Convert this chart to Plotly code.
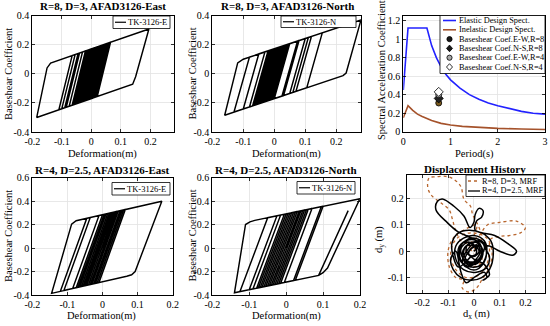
import plotly.graph_objects as go

W, H = 550, 326
F = "Liberation Serif"

# ---------------- data ----------------
# Hysteresis R=8 East (deformation m, base shear coef)
tl_x = [0.000, 0.023, 0.030, -0.015, -0.040, 0.005, 0.045, 0.000, -0.055, -0.010,
        0.010, -0.035, -0.065, -0.020, 0.055, 0.010, -0.030, 0.015, 0.040, -0.005,
        -0.075, -0.030, 0.020, -0.025, -0.045, 0.000, 0.060, 0.015, -0.020, 0.025,
        0.195, 0.150, 0.140, -0.185, -0.150, -0.138, 0.065, 0.020, -0.110, -0.065,
        0.000, -0.045, -0.100, -0.055, -0.020, -0.065, -0.090, -0.045, 0.035, -0.010,
        -0.085, -0.040, 0.050, 0.005, -0.050, -0.005, 0.025, -0.020, -0.060, -0.015,
        0.015, -0.030, -0.035, 0.010, 0.045, 0.000, -0.025, 0.020, 0.052, 0.007,
        -0.042, 0.003, 0.028, -0.017, -0.058, -0.013, 0.012, -0.033, -0.048, -0.030]
tl_y = [0.000, 0.186, 0.191, -0.181, -0.198, 0.174, 0.202, -0.170, -0.209, 0.163,
        0.177, -0.195, -0.216, 0.156, 0.209, -0.163, -0.191, 0.181, 0.198, -0.174,
        -0.223, 0.149, 0.184, -0.188, -0.202, 0.170, 0.212, -0.160, -0.184, 0.188,
        0.307, -0.020, -0.072, -0.300, 0.040, 0.073, 0.216, -0.156, -0.247, 0.125,
        0.170, -0.202, -0.240, 0.132, 0.156, -0.216, -0.233, 0.139, 0.195, -0.177,
        -0.230, 0.142, 0.205, -0.167, -0.205, 0.167, 0.188, -0.184, -0.212, 0.160,
        0.181, -0.191, -0.195, 0.177, 0.202, -0.170, -0.188, 0.184, 0.206, -0.165,
        -0.199, 0.172, 0.190, -0.182, -0.211, 0.161, 0.178, -0.193, -0.204, -0.080]

# Hysteresis R=8 North
tm_x = [0.000, 0.025, 0.035, -0.015, -0.045, 0.005, 0.040, -0.010, -0.060, -0.010,
        0.020, -0.030, -0.050, 0.000, 0.045, -0.005, -0.070, -0.020, 0.030, -0.020,
        -0.040, 0.010, 0.155, 0.105, -0.130, -0.080, 0.080, 0.030, -0.065, -0.015,
        0.010, -0.040, -0.055, -0.005, 0.280, 0.232, 0.222, -0.160, -0.118, -0.100,
        0.120, 0.070, -0.100, -0.050, 0.110, 0.060, -0.080, -0.030, 0.100, 0.050,
        -0.060, -0.010, 0.075, 0.025, -0.050, 0.000, 0.050, 0.000, -0.035, 0.015,
        0.040, -0.010, -0.045, 0.005, 0.025, -0.025, -0.030, -0.015]
tm_y = [0.000, 0.189, 0.196, -0.182, -0.203, 0.175, 0.199, -0.178, -0.214, 0.164,
        0.185, -0.192, -0.207, 0.171, 0.203, -0.175, -0.221, 0.157, 0.192, -0.185,
        -0.199, 0.178, 0.281, -0.096, -0.263, 0.114, 0.228, -0.150, -0.217, 0.160,
        0.178, -0.199, -0.210, 0.167, 0.370, 0.005, -0.013, -0.285, 0.075, 0.100,
        0.256, -0.121, -0.242, 0.136, 0.249, -0.128, -0.228, 0.150, 0.242, -0.136,
        -0.214, 0.164, 0.224, -0.153, -0.207, 0.171, 0.207, -0.171, -0.196, 0.182,
        0.199, -0.178, -0.203, 0.175, 0.189, -0.189, -0.192, -0.070]

# Hysteresis R=4 East
bl_x = [0.000, 0.039, 0.045, -0.030, -0.050, 0.025, 0.055, -0.020, -0.065, 0.010,
        0.030, -0.045, -0.060, 0.015, 0.050, -0.025, -0.040, 0.035, 0.169, 0.093,
        0.083, 0.069, -0.145, -0.088, -0.075, -0.055, 0.065, -0.010, -0.120, -0.045,
        0.020, -0.055, -0.110, -0.035, 0.000, -0.075, -0.085, -0.010, 0.060, -0.015,
        -0.070, 0.005, 0.040, -0.035, -0.055, 0.020, 0.045, -0.030, -0.045, 0.030,
        0.035, -0.040, -0.075, 0.000, 0.025, -0.050, -0.060, 0.015, 0.055, -0.020,
        -0.035, 0.040, 0.052, -0.023, -0.052, 0.023, 0.042, -0.033, -0.068, 0.007,
        0.028, -0.047, -0.030]
bl_y = [0.000, 0.310, 0.314, -0.307, -0.321, 0.300, 0.320, -0.301, -0.331, 0.290,
        0.303, -0.318, -0.328, 0.293, 0.317, -0.304, -0.314, 0.307, 0.398, -0.200,
        -0.228, -0.240, -0.386, 0.203, 0.232, 0.246, 0.327, -0.294, -0.369, 0.252,
        0.297, -0.324, -0.362, 0.259, 0.283, -0.338, -0.345, 0.276, 0.324, -0.297,
        -0.335, 0.286, 0.310, -0.311, -0.324, 0.297, 0.314, -0.307, -0.318, 0.303,
        0.307, -0.314, -0.338, 0.283, 0.300, -0.321, -0.328, 0.293, 0.320, -0.301,
        -0.311, 0.310, 0.318, -0.303, -0.322, 0.299, 0.312, -0.309, -0.333, 0.288,
        0.302, -0.319, -0.150]

# Hysteresis R=4 North
bm_x = [0.000, 0.037, 0.045, -0.030, -0.055, 0.020, 0.050, -0.025, -0.060, 0.015,
        0.030, -0.045, -0.070, 0.005, 0.200, 0.112, 0.100, 0.088, 0.168, 0.088,
        -0.140, -0.110, -0.098, -0.085, 0.100, 0.025, -0.125, -0.050, 0.095, 0.020,
        -0.100, -0.025, 0.070, -0.005, -0.090, -0.015, 0.060, -0.015, -0.080, -0.005,
        0.040, -0.035, -0.065, 0.010, 0.055, -0.020, -0.050, 0.025, 0.035, -0.040,
        -0.075, 0.000, 0.020, -0.055, -0.060, 0.015, 0.045, -0.030, -0.040, -0.020]
bm_y = [0.000, 0.314, 0.319, -0.310, -0.326, 0.303, 0.323, -0.306, -0.329, 0.300,
        0.310, -0.319, -0.336, 0.293, 0.420, -0.170, -0.210, -0.233, 0.318, -0.233,
        -0.381, 0.200, 0.222, 0.235, 0.355, -0.274, -0.371, 0.258, 0.352, -0.277,
        -0.355, 0.274, 0.336, -0.293, -0.349, 0.280, 0.329, -0.300, -0.342, 0.287,
        0.316, -0.313, -0.332, 0.297, 0.326, -0.303, -0.323, 0.306, 0.313, -0.316,
        -0.339, 0.290, 0.303, -0.326, -0.329, 0.300, 0.319, -0.310, -0.316, -0.150]

# Design spectra
period_el = [0.0, 0.1, 0.5, 0.55, 0.6, 0.7, 0.8, 0.9, 1.0, 1.2, 1.4, 1.6, 1.8, 2.0, 2.25, 2.5, 2.75, 3.0]
sa_el = [0.45, 1.12, 1.12, 1.02, 0.93, 0.80, 0.70, 0.62, 0.56, 0.47, 0.40, 0.35, 0.31, 0.28, 0.25, 0.22, 0.20, 0.19]
period_inel = [0.0, 0.1, 0.2, 0.3, 0.4, 0.5, 0.6, 0.8, 1.0, 1.25, 1.5, 2.0, 2.5, 3.0]
sa_inel = [0.15, 0.28, 0.23, 0.19, 0.165, 0.145, 0.12, 0.09, 0.072, 0.058, 0.048, 0.036, 0.029, 0.024]
coef_names = ["Baseshear Coef.E-W,R=8", "Baseshear Coef.N-S,R=8",
              "Baseshear Coef.E-W,R=4", "Baseshear Coef.N-S,R=4"]
coef_period = [0.75, 0.75, 0.75, 0.75]
coef_value = [0.31, 0.36, 0.40, 0.43]

# Displacement history
d8_x = [0.000, 0.030, 0.020, -0.005, -0.013, -0.038, -0.051, -0.080, -0.110, -0.145,
        -0.173, -0.179, -0.167, -0.128, -0.096, -0.083, -0.070, -0.050, -0.020, 0.020,
        0.052, 0.100, 0.167, 0.199, 0.180, 0.140, 0.103, 0.064, 0.060, 0.050,
        0.020, -0.030, -0.070, -0.090, -0.080, -0.050, 0.000, 0.050, 0.070, 0.060,
        0.030, 0.010, -0.020, -0.045, -0.040, -0.070, -0.095, -0.100, -0.080, -0.040,
        0.010, 0.000, -0.030, 0.020, 0.030, -0.010, -0.040, -0.020, 0.000]
d8_y = [0.000, 0.050, 0.090, 0.140, 0.171, 0.197, 0.247, 0.275, 0.285, 0.283,
        0.279, 0.247, 0.216, 0.184, 0.158, 0.121, 0.076, 0.040, 0.030, 0.060,
        0.100, 0.110, 0.114, 0.089, 0.070, 0.060, 0.057, 0.045, 0.000, -0.050,
        -0.090, -0.100, -0.070, -0.020, 0.030, 0.060, 0.070, 0.050, 0.000, -0.060,
        -0.110, -0.140, -0.155, -0.140, -0.110, -0.100, -0.060, 0.000, 0.050, 0.080,
        0.100, 0.060, 0.030, 0.000, -0.040, -0.060, -0.030, 0.010, -0.010]
d4_x = [0.000, 0.020, -0.010, -0.064, -0.102, -0.147, -0.141, -0.122, -0.077, -0.038,
        -0.015, 0.000, 0.005, 0.020, 0.035, 0.030, 0.010, 0.005, 0.030, 0.080,
        0.130, 0.165, 0.150, 0.100, 0.060, 0.040, 0.060, 0.050, 0.010, -0.040,
        -0.070, -0.070, -0.040, 0.000, 0.040, 0.050, 0.030, -0.010, -0.050, -0.060,
        -0.030, 0.010, 0.030, 0.020, -0.020, -0.040, -0.030, 0.000, 0.010, -0.010,
        -0.060, -0.080, -0.085, -0.060, -0.020, 0.030, 0.065, 0.075, 0.060, 0.030,
        -0.010, -0.050, -0.080, -0.090, -0.070, -0.050, -0.030, 0.000, 0.040, 0.050,
        0.035, 0.060, 0.040, 0.000, -0.030, -0.020, 0.020, 0.030, 0.000, -0.040,
        -0.050, -0.010, 0.040, 0.045, 0.010, -0.030, -0.055, -0.045, -0.010, 0.020,
        0.000, -0.020, -0.010, 0.025, 0.035, 0.015, -0.025, -0.045, -0.035, 0.005,
        0.030, 0.020, -0.015, -0.035, -0.020, 0.010, 0.025, 0.000, -0.030, -0.045,
        -0.025, 0.015, 0.040, 0.030, -0.005, -0.040, -0.050, -0.020, 0.010, 0.005]
d4_y = [0.000, 0.030, 0.050, 0.076, 0.108, 0.158, 0.190, 0.199, 0.171, 0.133,
        0.090, 0.110, 0.140, 0.163, 0.155, 0.130, 0.115, 0.080, 0.070, 0.060,
        0.030, 0.000, -0.015, 0.000, 0.020, 0.020, -0.020, -0.060, -0.080, -0.070,
        -0.030, 0.020, 0.050, 0.060, 0.040, 0.000, -0.050, -0.060, -0.040, 0.010,
        0.040, 0.040, 0.010, -0.030, -0.040, -0.010, 0.020, 0.020, -0.010, -0.020,
        -0.060, -0.020, 0.030, 0.070, 0.080, 0.070, 0.040, -0.010, -0.070, -0.100,
        -0.110, -0.100, -0.070, -0.030, 0.000, -0.080, -0.120, -0.100, -0.080, -0.100,
        -0.110, -0.090, -0.050, -0.030, 0.000, 0.030, 0.030, -0.020, -0.050, -0.030,
        0.020, 0.050, 0.030, -0.030, -0.070, -0.060, -0.020, 0.030, 0.030, 0.000,
        -0.020, -0.010, 0.010, 0.020, -0.010, -0.045, -0.050, -0.020, 0.015, 0.035,
        0.010, -0.030, -0.055, -0.035, 0.000, 0.025, 0.000, -0.040, -0.060, -0.040,
        0.005, 0.040, 0.020, -0.015, -0.045, -0.030, 0.010, 0.035, 0.005, -0.020]

# Tick labels
hx_ticks = [-0.2, -0.1, 0, 0.1, 0.2]
hx_labels = ["-0.2", "-0.1", "0", "0.1", "0.2"]
top_y_ticks = [-0.4, -0.2, 0, 0.2, 0.4]
top_y_labels = ["-0.4", "-0.2", "0", "0.2", "0.4"]
bot_y_ticks = [-0.4, -0.2, 0, 0.2, 0.4, 0.6]
bot_y_labels = ["-0.4", "-0.2", "0", "0.2", "0.4", "0.6"]
sp_x_ticks = [0, 1, 2, 3]
sp_x_labels = ["0", "1", "2", "3"]
sp_y_ticks = [0, 0.2, 0.4, 0.6, 0.8, 1.0, 1.2]
sp_y_labels = ["0", "0.2", "0.4", "0.6", "0.8", "1", "1.2"]
dx_ticks = [-0.2, -0.1, 0, 0.1, 0.2]
dx_labels = ["-0.2", "-0.1", "0", "0.1", "0.2"]
dy_ticks = [-0.1, 0, 0.1, 0.2]
dy_labels = ["-0.1", "0", "0.1", "0.2"]

# ---------------- layout helpers ----------------
def px(p):
    return p / W

def py(p):
    return 1 - p / H

BLUE = "#2222ff"
BROWN = "#a5522b"
DBROWN = "#b8662e"

boxes = {
    1: (32.3, 174.0, 15.5, 132.0),
    2: (212.3, 361.0, 15.5, 132.0),
    3: (403.3, 545.0, 16.0, 131.7),
    4: (32.3, 172.7, 177.5, 295.0),
    5: (212.3, 360.0, 177.5, 295.0),
    6: (406.7, 545.0, 175.0, 293.3),
}
ranges = {
    1: ([-0.2, 0.28], [-0.4, 0.4]),
    2: ([-0.2, 0.28], [-0.4, 0.4]),
    3: ([0, 3], [0, 1.25]),
    4: ([-0.2, 0.2], [-0.4, 0.6]),
    5: ([-0.2, 0.2], [-0.4, 0.6]),
    6: ([-0.26, 0.275], [-0.16, 0.29]),
}
ticks = {
    1: (hx_ticks, hx_labels, top_y_ticks, top_y_labels),
    2: (hx_ticks, hx_labels, top_y_ticks, top_y_labels),
    3: (sp_x_ticks, sp_x_labels, sp_y_ticks, sp_y_labels),
    4: (hx_ticks, hx_labels, bot_y_ticks, bot_y_labels),
    5: (hx_ticks, hx_labels, bot_y_ticks, bot_y_labels),
    6: (dx_ticks, dx_labels, dy_ticks, dy_labels),
}

fig = go.Figure()

def ax(i):
    return ("x" if i == 1 else f"x{i}"), ("y" if i == 1 else f"y{i}")

def add_line(x, y, i, color, width, dash="solid", shape="linear"):
    xa, ya = ax(i)
    fig.add_trace(go.Scatter(x=x, y=y, xaxis=xa, yaxis=ya, mode="lines",
                             line=dict(color=color, width=width, dash=dash, shape=shape),
                             showlegend=False, hoverinfo="skip"))

add_line(tl_x, tl_y, 1, "black", 1.45)
add_line(tm_x, tm_y, 2, "black", 1.45)
add_line(period_el, sa_el, 3, BLUE, 1.6)
add_line(period_inel, sa_inel, 3, BROWN, 1.6)
add_line(bl_x, bl_y, 4, "black", 1.45)
add_line(bm_x, bm_y, 5, "black", 1.45)
add_line(d8_x, d8_y, 6, DBROWN, 1.3, dash="dot", shape="spline")
add_line(d4_x, d4_y, 6, "black", 1.5, shape="spline")

marker_styles = [
    dict(symbol="circle", size=6, color="#7a5a1e", line=dict(color="black", width=0.8)),
    dict(symbol="diamond", size=7, color="#222222", line=dict(color="black", width=0.8)),
    dict(symbol="circle", size=6, color="#a8a8a8", line=dict(color="black", width=0.8)),
    dict(symbol="diamond", size=7, color="white", line=dict(color="black", width=0.8)),
]
for k in range(4):
    fig.add_trace(go.Scatter(x=[coef_period[k]], y=[coef_value[k]], xaxis="x3", yaxis="y3",
                             mode="markers", marker=marker_styles[k], name=coef_names[k],
                             showlegend=False, hoverinfo="skip"))

layout = dict(width=W, height=H, margin=dict(l=0, r=0, t=0, b=0, autoexpand=False),
              paper_bgcolor="white", plot_bgcolor="white", showlegend=False)
for i in range(1, 7):
    x0, x1, y0, y1 = boxes[i]
    xr, yr = ranges[i]
    xt, xl, yt, yl = ticks[i]
    common = dict(showline=True, linecolor="black", linewidth=1, mirror="ticks",
                  ticks="inside", ticklen=3, tickwidth=0.8, tickcolor="black",
                  showgrid=True, gridcolor="#e2e2e2", gridwidth=0.8, zeroline=False,
                  automargin=False,
                  tickfont=dict(family=F, size=10, color="black"), fixedrange=True)
    xa, ya = ax(i)
    layout["xaxis" if i == 1 else f"xaxis{i}"] = dict(
        domain=[px(x0), px(x1)], range=xr, tickvals=xt, ticktext=xl, anchor=ya, **common)
    layout["yaxis" if i == 1 else f"yaxis{i}"] = dict(
        domain=[py(y1), py(y0)], range=yr, tickvals=yt, ticktext=yl, anchor=xa, **common)
fig.update_layout(**layout)

annotations = []
def ann(text, x, y, size, angle=0, xanchor="center"):
    annotations.append(dict(xref="paper", yref="paper", x=px(x), y=py(y), text=text,
                            showarrow=False, textangle=angle, xanchor=xanchor, yanchor="middle",
                            font=dict(family=F, size=size, color="black")))

# titles
ann("<b>R=8, D=3, AFAD3126-East</b>", 103, 6.5, 11)
ann("<b>R=8, D=3, AFAD3126-North</b>", 287, 6.5, 11)
ann("<b>R=4, D=2.5, AFAD3126-East</b>", 102, 170, 11)
ann("<b>R=4, D=2.5, AFAD3126-North</b>", 286, 170, 11)
ann("<b>Displacement History</b>", 475, 168.5, 11)
# axis titles
for (xc, yc) in [(102, 153.5), (286, 153.5), (101, 315.5), (286, 315.5)]:
    ann("Deformation(m)", xc, yc, 10.5)
for (xc, yc) in [(8, 74), (191.5, 74), (8, 236), (191.5, 236)]:
    ann("Baseshear Coefficient", xc, yc, 10.5, angle=-90)
ann("Period(s)", 474, 153.5, 10.5)
ann("Spectral Acceleration Coefficient", 381, 70, 10.5, angle=-90)
ann("d<sub>x</sub> (m)", 476, 314.5, 10.5)
ann("d<sub>y</sub> (m)", 379, 240, 10.5, angle=-90)

shapes = []
def rect(x0, x1, y0, y1):
    shapes.append(dict(type="rect", xref="paper", yref="paper", x0=px(x0), x1=px(x1),
                       y0=py(y1), y1=py(y0), fillcolor="white",
                       line=dict(color="black", width=0.8), layer="above"))

def seg(x0, x1, y, color, width=1.3, dash="solid"):
    shapes.append(dict(type="line", xref="paper", yref="paper", x0=px(x0), x1=px(x1),
                       y0=py(y), y1=py(y), line=dict(color=color, width=width, dash=dash),
                       layer="above"))

# hysteresis legends
for (bx0, bx1, by0, by1, label) in [(113, 170, 16, 28.5, "TK-3126-E"),
                                     (281, 356, 16, 27.5, "TK-3126-N"),
                                     (112, 170, 182.5, 195, "TK-3126-E"),
                                     (297, 355, 181.5, 194, "TK-3126-N")]:
    rect(bx0, bx1, by0, by1)
    ym = (by0 + by1) / 2
    seg(bx0 + 2, bx0 + 13, ym, "black", 1.2)
    ann(label, bx0 + 13, ym, 8.5, xanchor="left")

# spectrum legend
rect(440, 545, 15.5, 73.5)
row_y = [20.5, 29.8, 39.1, 48.4, 57.7, 67.0]
seg(443, 456, row_y[0], BLUE, 1.6)
ann("Elastic Design Spect.", 456.5, row_y[0], 8.3, xanchor="left")
seg(443, 456, row_y[1], BROWN, 1.6)
ann("Inelastic Design Spect.", 456.5, row_y[1], 8.3, xanchor="left")
mk_fill = ["#1a1a1a", "#1a1a1a", "#a8a8a8", "white"]
mk_kind = ["circle", "diamond", "circle", "diamond"]
for k in range(4):
    yk = row_y[2 + k]
    if mk_kind[k] == "circle":
        shapes.append(dict(type="circle", xref="paper", yref="paper", xsizemode="pixel",
                           ysizemode="pixel", xanchor=px(449.5), yanchor=py(yk),
                           x0=-2.6, x1=2.6, y0=-2.6, y1=2.6, fillcolor=mk_fill[k],
                           line=dict(color="black", width=0.8), layer="above"))
    else:
        shapes.append(dict(type="path", xref="paper", yref="paper", xsizemode="pixel",
                           ysizemode="pixel", xanchor=px(449.5), yanchor=py(yk),
                           path="M 0,3.3 L 3.0,0 L 0,-3.3 L -3.0,0 Z", fillcolor=mk_fill[k],
                           line=dict(color="black", width=0.8), layer="above"))
    ann(coef_names[k], 456.5, yk, 8.3, xanchor="left")

# displacement legend
rect(466, 545, 175, 196.5)
seg(468, 480, 181, DBROWN, 1.3, dash="dot")
ann("R=8, D=3, MRF", 480, 181, 8.3, xanchor="left")
seg(468, 480, 191, "black", 1.3)
ann("R=4, D=2.5, MRF", 480, 191, 8.3, xanchor="left")

fig.update_layout(annotations=annotations, shapes=shapes)
fig.write_html("out.html", config={"displayModeBar": False, "staticPlot": True},
               post_script="document.body.style.margin='0';document.body.style.padding='0';")
